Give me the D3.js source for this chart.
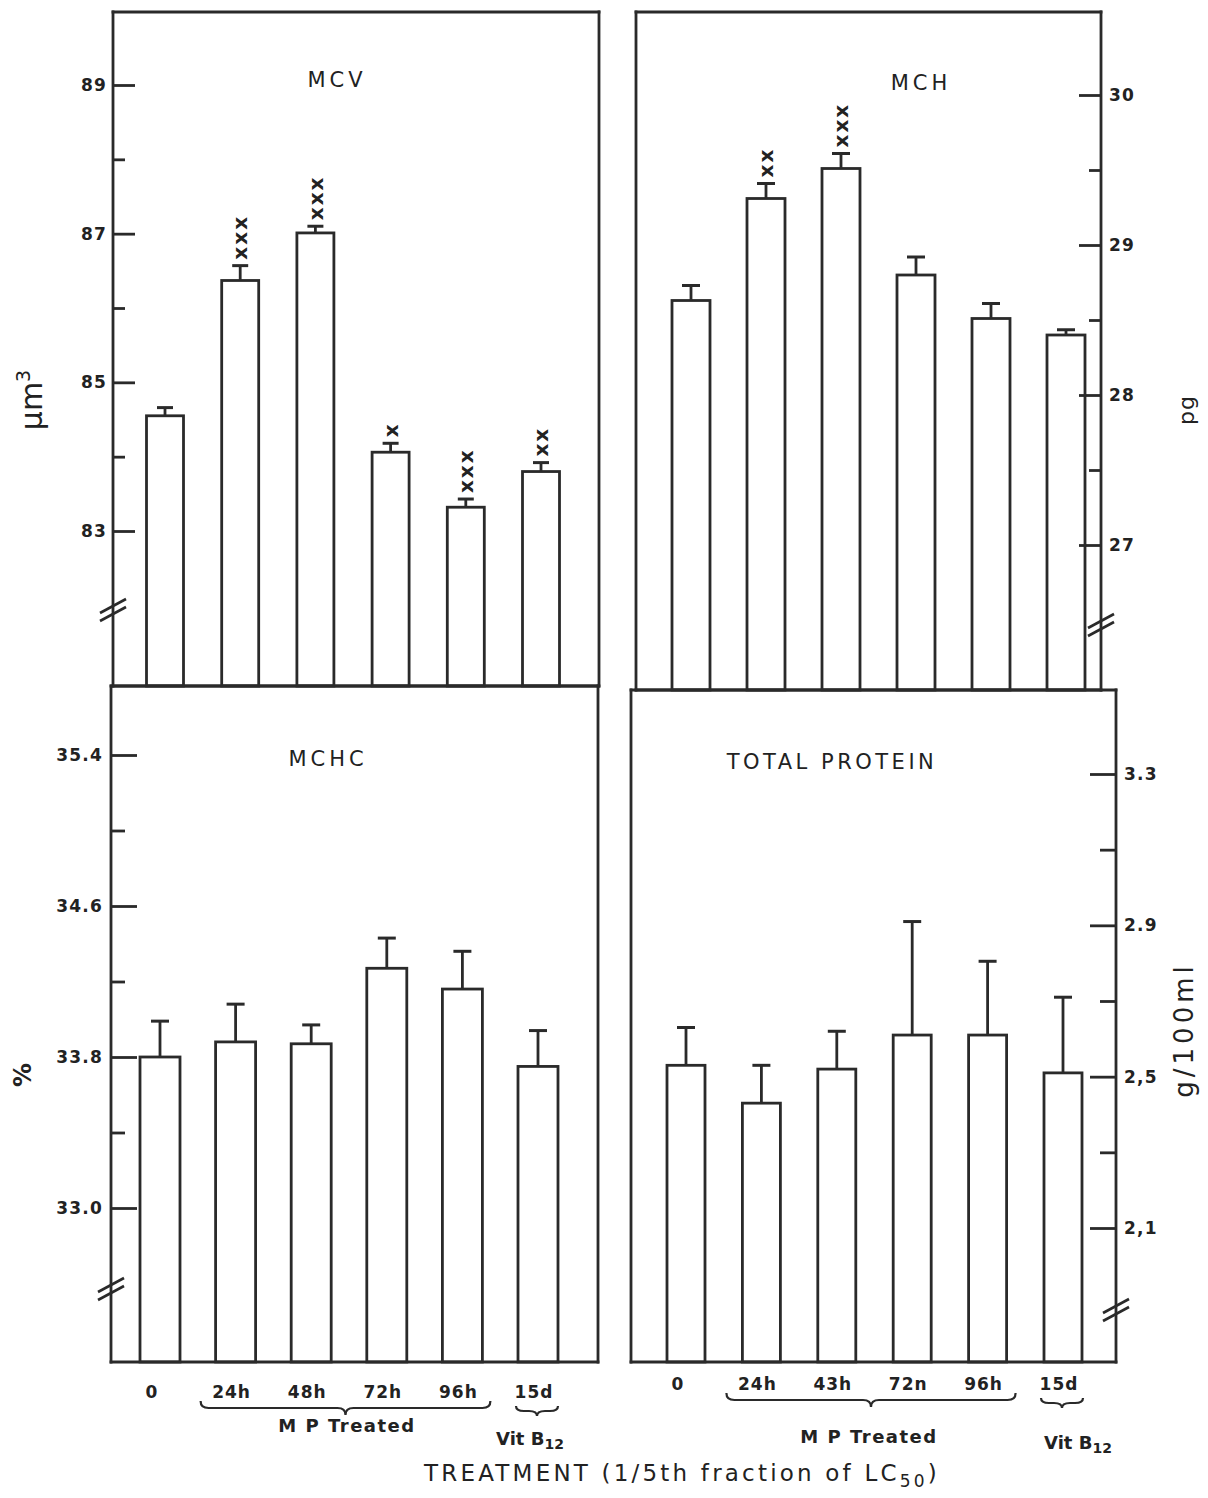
<!DOCTYPE html>
<html>
<head>
<meta charset="utf-8">
<script src="https://cdn.jsdelivr.net/npm/d3@7/dist/d3.min.js"></script>
<style>
  html, body { margin: 0; padding: 0; background: #fff; }
  svg { display: block; }
  text { font-family: "DejaVu Sans", "Liberation Sans", sans-serif; fill: #222; }
</style>
</head>
<body>
<svg id="chart" width="1208" height="1498"></svg>
<script>
// Treatment groups (x categories)
const categories = ["0", "24h", "48h", "72h", "96h", "15d"];
// Labels printed under the right-hand panel
const proteinLabels = ["0", "24h", "43h", "72n", "96h", "15d"];

// MCV (µm³): means, S.E., significance marks
const mcvValues = [84.55, 86.37, 87.01, 84.06, 83.32, 83.80];
const mcvErrors = [0.11, 0.20, 0.09, 0.12, 0.11, 0.12];
const mcvSig = ["", "xxx", "xxx", "x", "xxx", "xx"];

// MCH (pg)
const mchValues = [28.63, 29.31, 29.51, 28.80, 28.51, 28.40];
const mchErrors = [0.10, 0.10, 0.10, 0.12, 0.10, 0.035];
const mchSig = ["", "xx", "xxx", "", "", ""];

// MCHC (%)
const mchcValues = [33.80, 33.88, 33.87, 34.27, 34.16, 33.75];
const mchcErrors = [0.19, 0.20, 0.10, 0.16, 0.20, 0.19];

// Total protein (g/100 ml)
const proteinValues = [2.53, 2.43, 2.52, 2.61, 2.61, 2.51];
const proteinErrors = [0.10, 0.10, 0.10, 0.30, 0.195, 0.20];

// Axis ticks
const mcvMajor = [83, 85, 87, 89], mcvMinor = [84, 86, 88];
const mchMajor = [27, 28, 29, 30], mchMinor = [27.5, 28.5, 29.5];
const mchcMajor = [33.0, 33.8, 34.6, 35.4], mchcMinor = [33.4, 34.2, 35.0];
const proteinMajor = [2.1, 2.5, 2.9, 3.3], proteinMinor = [2.3, 2.7, 3.1];
const proteinTickLabels = ["2,1", "2,5", "2.9", "3.3"];

const INK = "#2a2a2a";
const svg = d3.select("#chart");
svg.append("rect").attr("width", 1208).attr("height", 1498).attr("fill", "#fff");

function drawPanel(cfg) {
  const g = svg.append("g");
  const y = d3.scaleLinear().domain(cfg.domain).range(cfg.range);
  const x = d3.scalePoint().domain(categories).range(cfg.centers);

  // frame
  const frame = [
    [cfg.x0, cfg.y0, cfg.x1, cfg.y0],
    [cfg.x0, cfg.y1, cfg.x1, cfg.y1],
    [cfg.x0, cfg.y0, cfg.x0, cfg.y1],
    [cfg.x1, cfg.y0, cfg.x1, cfg.y1]
  ];
  g.selectAll("line.frame").data(frame).join("line")
    .attr("class", "frame")
    .attr("x1", d => d[0]).attr("y1", d => d[1])
    .attr("x2", d => d[2]).attr("y2", d => d[3])
    .attr("stroke", INK).attr("stroke-width", 2.8).attr("stroke-linecap", "square");

  // axes: major ticks with labels, minor ticks without
  const axisX = cfg.side === "left" ? cfg.x0 : cfg.x1;
  const make = cfg.side === "left" ? d3.axisLeft : d3.axisRight;
  const major = make(y).tickValues(cfg.major).tickSize(-cfg.majorLen).tickPadding(cfg.pad)
    .tickFormat(cfg.fmt);
  const minor = make(y).tickValues(cfg.minor).tickSize(-cfg.minorLen).tickFormat("");
  [major, minor].forEach(ax => {
    const a = g.append("g").attr("transform", `translate(${axisX},0)`).call(ax);
    a.select(".domain").remove();
    a.selectAll(".tick line").attr("stroke", INK).attr("stroke-width", 2.8);
    a.selectAll(".tick text").attr("font-size", 17).attr("font-weight", "bold").attr("fill", "#2a2a2a")
      .attr("font-family", "DejaVu Sans, sans-serif").attr("letter-spacing", 1.2);
  });

  // axis break
  const bk = cfg.breakY;
  g.selectAll("line.brk").data([-4, 4]).join("line")
    .attr("class", "brk")
    .attr("x1", axisX - 13).attr("y1", d => bk + d + 7)
    .attr("x2", axisX + 13).attr("y2", d => bk + d - 7)
    .attr("stroke", INK).attr("stroke-width", 2.6);

  // bars
  const rows = categories.map((c, i) => ({ c, v: cfg.values[i], e: cfg.errors[i], s: cfg.sig ? cfg.sig[i] : "" }));
  g.selectAll("rect.bar").data(rows).join("rect")
    .attr("class", "bar")
    .attr("x", d => x(d.c) - cfg.bw / 2).attr("y", d => y(d.v))
    .attr("width", cfg.bw).attr("height", d => cfg.y1 - y(d.v))
    .attr("fill", "none").attr("stroke", INK).attr("stroke-width", 2.8);

  // error bars
  g.selectAll("line.err").data(rows).join("line")
    .attr("class", "err")
    .attr("x1", d => x(d.c)).attr("x2", d => x(d.c))
    .attr("y1", d => y(d.v)).attr("y2", d => y(d.v + d.e))
    .attr("stroke", INK).attr("stroke-width", 2.8);
  g.selectAll("line.cap").data(rows).join("line")
    .attr("class", "cap")
    .attr("x1", d => x(d.c) - cfg.capW / 2).attr("x2", d => x(d.c) + cfg.capW / 2)
    .attr("y1", d => y(d.v + d.e)).attr("y2", d => y(d.v + d.e))
    .attr("stroke", INK).attr("stroke-width", 3);

  // significance marks, stacked upward above each cap
  g.selectAll("text.sig").data(rows.filter(d => d.s)).join("text")
    .attr("class", "sig")
    .attr("transform", d => `translate(${x(d.c)},${y(d.v + d.e) - 6}) rotate(-90)`)
    .attr("dy", "0.36em")
    .attr("font-size", 20).attr("font-weight", "bold").attr("letter-spacing", 2)
    .text(d => d.s);

  // panel title
  g.append("text").attr("x", cfg.titleX).attr("y", cfg.titleY)
    .attr("text-anchor", "middle").attr("font-size", 21).attr("letter-spacing", cfg.titleSpacing)
    .text(cfg.title);

  return { x, y };
}

drawPanel({
  title: "MCV", titleX: 337, titleY: 87, titleSpacing: 4,
  x0: 113, x1: 599, y0: 12, y1: 686, side: "left",
  domain: [83, 89], range: [531, 85], centers: [165, 541], bw: 37, capW: 16,
  values: mcvValues, errors: mcvErrors, sig: mcvSig,
  major: mcvMajor, minor: mcvMinor, majorLen: 22, minorLen: 12, pad: 6,
  fmt: d3.format("d"), breakY: 610
});

drawPanel({
  title: "MCH", titleX: 921, titleY: 90, titleSpacing: 4,
  x0: 636, x1: 1101, y0: 12, y1: 690, side: "right",
  domain: [27, 30], range: [545, 95], centers: [691, 1066], bw: 38, capW: 18,
  values: mchValues, errors: mchErrors, sig: mchSig,
  major: mchMajor, minor: mchMinor, majorLen: 22, minorLen: 12, pad: 8,
  fmt: d3.format("d"), breakY: 625
});

const mchc = drawPanel({
  title: "MCHC", titleX: 328, titleY: 766, titleSpacing: 4,
  x0: 111, x1: 598, y0: 686, y1: 1362, side: "left",
  domain: [33.0, 35.4], range: [1208, 755], centers: [160, 538], bw: 40, capW: 18,
  values: mchcValues, errors: mchcErrors, sig: null,
  major: mchcMajor, minor: mchcMinor, majorLen: 26, minorLen: 14, pad: 8,
  fmt: d3.format(".1f"), breakY: 1289
});

const prot = drawPanel({
  title: "TOTAL PROTEIN", titleX: 832, titleY: 769, titleSpacing: 3.5,
  x0: 631, x1: 1116, y0: 690, y1: 1362, side: "right",
  domain: [2.1, 3.3], range: [1228, 774], centers: [686, 1063], bw: 38, capW: 18,
  values: proteinValues, errors: proteinErrors, sig: null,
  major: proteinMajor, minor: proteinMinor, majorLen: 26, minorLen: 16, pad: 8,
  fmt: (d, i) => proteinTickLabels[i], breakY: 1310
});

// y-axis titles
svg.append("text").attr("transform", "translate(42,400) rotate(-90)")
  .attr("text-anchor", "middle").attr("font-size", 30)
  .call(t => { t.append("tspan").text("\u03bcm"); t.append("tspan").attr("dy", -12).attr("font-size", 19).text("3"); });
svg.append("text").attr("transform", "translate(1194,410) rotate(-90)")
  .attr("text-anchor", "middle").attr("font-size", 22).attr("letter-spacing", 1).text("pg");
svg.append("text").attr("transform", "translate(31,1075) rotate(-90)")
  .attr("text-anchor", "middle").attr("font-size", 24).attr("font-weight", "bold").text("%");
svg.append("text").attr("transform", "translate(1193,1030) rotate(-90)")
  .attr("text-anchor", "middle").attr("font-size", 26).attr("letter-spacing", 4).text("g/100ml");

// category labels, group braces and group names under the lower panels
function brace(x1, x2, yTop, depth) {
  const mid = (x1 + x2) / 2, q = depth / 2;
  const p = d3.path();
  p.moveTo(x1, yTop);
  p.quadraticCurveTo(x1, yTop + q, x1 + 8, yTop + q);
  p.lineTo(mid - 8, yTop + q);
  p.quadraticCurveTo(mid, yTop + q, mid, yTop + depth);
  p.quadraticCurveTo(mid, yTop + q, mid + 8, yTop + q);
  p.lineTo(x2 - 8, yTop + q);
  p.quadraticCurveTo(x2, yTop + q, x2, yTop);
  return p.toString();
}

function drawGroups(sc, labels, base, cfg) {
  const g = svg.append("g");
  g.selectAll("text.cat").data(categories).join("text")
    .attr("class", "cat")
    .attr("x", (d, i) => sc.x(d) + (i === 0 ? -8 : -4)).attr("y", base)
    .attr("text-anchor", "middle").attr("font-size", 17).attr("font-weight", "bold").attr("letter-spacing", 1)
    .text((d, i) => labels[i]);
  const half = 30;
  g.append("path").attr("d", brace(sc.x("24h") - half - 5, sc.x("96h") + half - 2, base + 3, 14))
    .attr("fill", "none").attr("stroke", INK).attr("stroke-width", 2.2);
  g.append("path").attr("d", brace(sc.x("15d") - 22, sc.x("15d") + 20, base + 8, 10))
    .attr("fill", "none").attr("stroke", INK).attr("stroke-width", 2.2);
  g.append("text").attr("x", cfg.mpX).attr("y", cfg.mpY)
    .attr("text-anchor", "middle").attr("font-size", 18).attr("font-weight", "bold").attr("letter-spacing", 1.5)
    .text("M P Treated");
  g.append("text").attr("x", cfg.vitX).attr("y", cfg.vitY)
    .attr("text-anchor", "middle").attr("font-size", 18).attr("font-weight", "bold")
    .call(t => { t.append("tspan").text("Vit B"); t.append("tspan").attr("dy", 4).attr("font-size", 14).text("12"); });
}

drawGroups(mchc, categories, 1398, { mpX: 347, mpY: 1432, vitX: 530, vitY: 1445 });
drawGroups(prot, proteinLabels, 1390, { mpX: 869, mpY: 1443, vitX: 1078, vitY: 1449 });

svg.append("text").attr("x", 682).attr("y", 1481)
  .attr("text-anchor", "middle").attr("font-size", 23).attr("letter-spacing", 3.2)
  .call(t => {
    t.append("tspan").text("TREATMENT (1/5th fraction of LC");
    t.append("tspan").attr("dy", 6).attr("font-size", 17).text("50");
    t.append("tspan").attr("dy", -6).text(")");
  });
</script>
</body>
</html>
